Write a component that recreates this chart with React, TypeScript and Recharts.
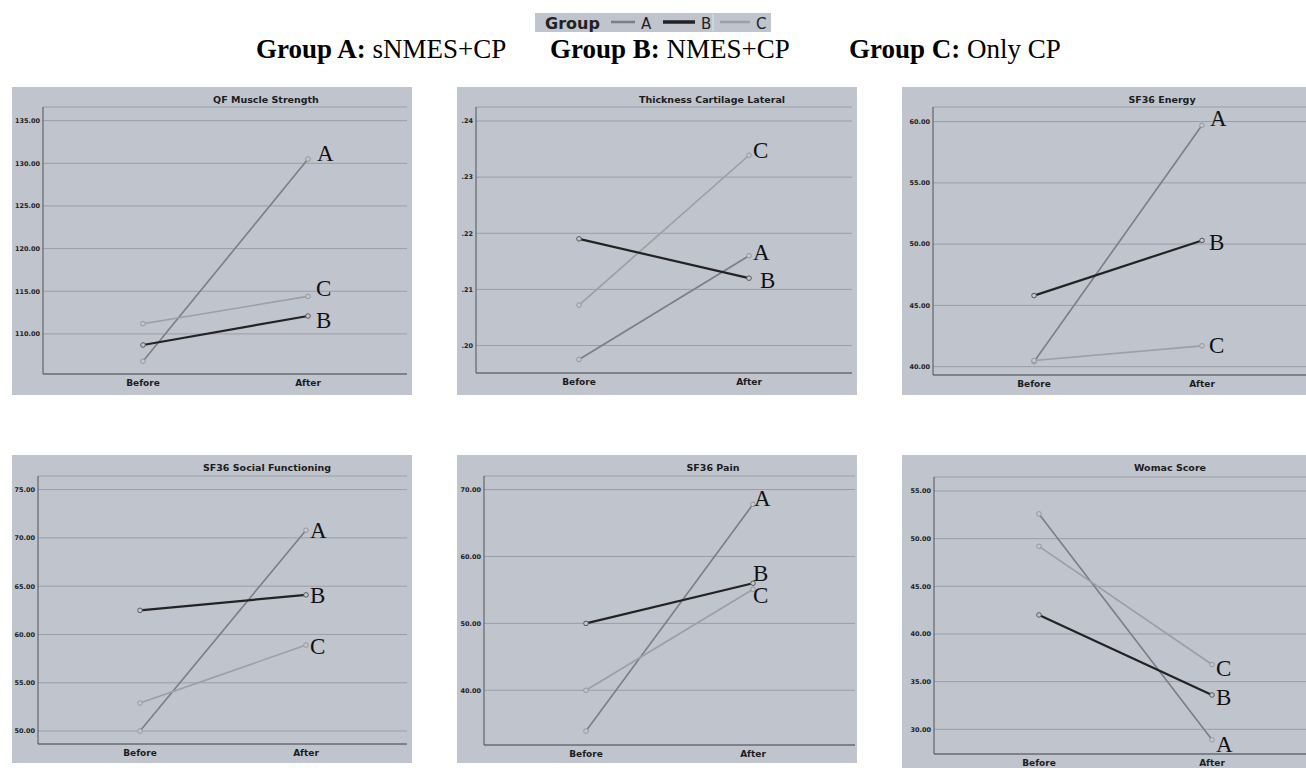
import { CartesianGrid, LabelList, Line, LineChart, XAxis, YAxis } from "recharts"

const times = ["Before", "After"]
const groups = ["A", "B", "C"]

const qfA = [106.8, 130.5]
const qfB = [108.7, 112.1]
const qfC = [111.2, 114.4]
const qfTicks = [110, 115, 120, 125, 130, 135]

const thickA = [0.1975, 0.216]
const thickB = [0.219, 0.212]
const thickC = [0.2072, 0.2339]
const thickTicks = [0.2, 0.21, 0.22, 0.23, 0.24]

const energyA = [40.4, 59.7]
const energyB = [45.8, 50.3]
const energyC = [40.5, 41.7]
const energyTicks = [40, 45, 50, 55, 60]

const socialA = [50.0, 70.8]
const socialB = [62.5, 64.1]
const socialC = [52.9, 58.9]
const socialTicks = [50, 55, 60, 65, 70, 75]

const painA = [33.9, 67.8]
const painB = [50.0, 56.0]
const painC = [40.0, 55.1]
const painTicks = [40, 50, 60, 70]

const womacA = [52.6, 28.9]
const womacB = [42.0, 33.6]
const womacC = [49.2, 36.8]
const womacTicks = [30, 35, 40, 45, 50, 55]

const BG = "#c0c4cc"
const colors: Record<string, string> = { A: "#7b7e84", B: "#232325", C: "#9c9fa4" }
const widths: Record<string, number> = { A: 1.6, B: 2.2, C: 1.6 }
const fmt2 = (v: number) => v.toFixed(2)
const fmtDot = (v: number) => v.toFixed(2).replace(/^0/, "")

const panels = [
  { title: "QF Muscle Strength", a: qfA, b: qfB, c: qfC, ticks: qfTicks, domain: [105.3, 136.6], fmt: fmt2,
    box: [12, 87, 400, 308], axisX: 31, top: 20, right: 5, xh: 21, pad: [100, 99], titleX: 254,
    lab: { A: [9, 1.5], B: [8, 12], C: [8, 0] } },
  { title: "Thickness Cartilage Lateral", a: thickA, b: thickB, c: thickC, ticks: thickTicks, domain: [0.1951, 0.2425], fmt: fmtDot,
    box: [457, 87, 400, 308], axisX: 19, top: 20, right: 5, xh: 22, pad: [103, 103], titleX: 255,
    lab: { A: [4, 4], B: [11, 10], C: [4, 3] } },
  { title: "SF36 Energy", a: energyA, b: energyB, c: energyC, ticks: energyTicks, domain: [39.32, 61.19], fmt: fmt2,
    box: [902, 87, 404, 308], axisX: 31, top: 20, right: 0, xh: 20, pad: [101, 104], titleX: 260,
    lab: { A: [8, 1], B: [7, 9.5], C: [7, 7] } },
  { title: "SF36 Social Functioning", a: socialA, b: socialB, c: socialC, ticks: socialTicks, domain: [48.66, 76.41], fmt: fmt2,
    box: [12, 455, 400, 308], axisX: 26, top: 21, right: 5, xh: 19, pad: [102, 101], titleX: 255,
    lab: { A: [4, 8], B: [4, 8], C: [4, 8.5] } },
  { title: "SF36 Pain", a: painA, b: painB, c: painC, ticks: painTicks, domain: [31.82, 72.03], fmt: fmt2,
    box: [457, 455, 400, 308], axisX: 27, top: 21, right: 2, xh: 18, pad: [102, 102], titleX: 256,
    lab: { A: [1, 1.5], B: [0, -2.5], C: [0, 14] } },
  { title: "Womac Score", a: womacA, b: womacB, c: womacC, ticks: womacTicks, domain: [27.41, 56.47], fmt: fmt2,
    box: [902, 455, 404, 313], axisX: 32, top: 22, right: 0, xh: 14, pad: [105, 94], titleX: 268,
    lab: { A: [4, 12.5], B: [4, 10], C: [4, 11.5] } },
]

const Panel = ({ p }: { p: any }) => {
  const data = times.map((t, i) => ({ time: t, A: p.a[i], B: p.b[i], C: p.c[i] }))
  const [left, top, w, h] = p.box
  return (
    <div style={{ position: "absolute", left, top, width: w, height: h, background: BG, overflow: "hidden" }}>
      <div
        style={{
          position: "absolute", left: p.titleX - 150, width: 300, top: 7, lineHeight: "12px",
          textAlign: "center", fontFamily: "DejaVu Sans", fontWeight: "bold", fontSize: 9.5, color: "#1c1c1c",
        }}
      >
        {p.title}
      </div>
      <LineChart width={w} height={h} data={data} margin={{ top: p.top, right: p.right, bottom: 0, left: 0 }}>
        <CartesianGrid vertical={false} stroke="#9a9ea6" />
        <XAxis
          dataKey="time"
          height={p.xh}
          padding={{ left: p.pad[0], right: p.pad[1] }}
          interval={0}
          tickLine={false}
          tickSize={4}
          tickMargin={2}
          stroke="#505257"
          tick={{ fill: "#1c1c1c", fontSize: 9, fontWeight: "bold", fontFamily: "DejaVu Sans" }}
        />
        <YAxis
          type="number"
          width={p.axisX}
          domain={p.domain}
          ticks={p.ticks}
          allowDataOverflow
          tickFormatter={p.fmt}
          tickLine={false}
          tickSize={1}
          tickMargin={2}
          stroke="#505257"
          tick={{ fill: "#222", fontSize: 6.5, fontWeight: "bold", fontFamily: "DejaVu Sans" }}
        />
        {["A", "C", "B"].map((g) => (
          <Line
            key={g}
            dataKey={g}
            stroke={colors[g]}
            strokeWidth={widths[g]}
            dot={{ r: 2.3, stroke: g === "B" ? "#55575c" : "#94979c", strokeWidth: 1, fill: "#c6c8cd" }}
            isAnimationActive={false}
          >
            <LabelList
              content={(props: any) =>
                props.index === 1 ? (
                  <text
                    x={props.x + p.lab[g][0]}
                    y={props.y + p.lab[g][1]}
                    fontFamily="Liberation Serif"
                    fontSize={23}
                    fill="#111"
                  >
                    {g}
                  </text>
                ) : null
              }
            />
          </Line>
        ))}
      </LineChart>
    </div>
  )
}

const Legend = () => (
  <svg style={{ position: "absolute", left: 535, top: 13 }} width={236} height={19}>
    <rect x={0} y={0} width={236} height={19} fill={BG} />
    <text x={10} y={15.5} fontFamily="DejaVu Sans" fontWeight="bold" fontSize={16} fill="#222">Group</text>
    {groups.map((g, i) => {
      const x0 = [76, 128, 185][i]
      const len = [24, 32, 30][i]
      return (
        <g key={g}>
          <line x1={x0} x2={x0 + len} y1={9} y2={9} stroke={colors[g]} strokeWidth={g === "B" ? 3.5 : 2.5} />
          <text x={x0 + len + 6} y={15.5} fontFamily="DejaVu Sans" fontSize={15} fill="#222">{g}</text>
        </g>
      )
    })}
    <line x1={178} x2={178} y1={1} y2={18} stroke="#e2e4e8" strokeWidth={1} />
  </svg>
)

const headers = [
  { x: 256, bold: "Group A:", rest: " sNMES+CP" },
  { x: 550, bold: "Group B:", rest: " NMES+CP" },
  { x: 849, bold: "Group C:", rest: " Only CP" },
]

const App = () => (
  <div style={{ position: "absolute", left: 0, top: 0, width: 1306, height: 768, background: "#fff", overflow: "hidden" }}>
    <Legend />
    <svg style={{ position: "absolute", left: 0, top: 0 }} width={1306} height={80}>
      {headers.map((h) => (
        <text key={h.x} x={h.x} y={58} fontFamily="Liberation Serif" fontSize={27} fill="#000">
          <tspan fontWeight="bold">{h.bold}</tspan>
          <tspan>{h.rest}</tspan>
        </text>
      ))}
    </svg>
    {panels.map((p) => (
      <Panel key={p.title} p={p} />
    ))}
  </div>
)

export default App
